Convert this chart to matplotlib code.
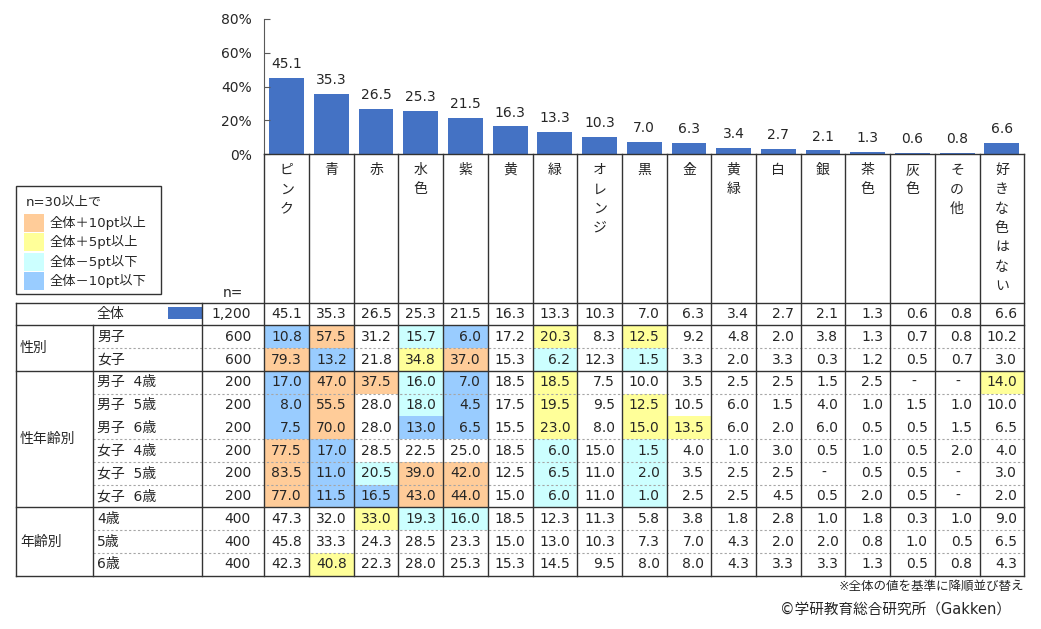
import numpy as np
import matplotlib.pyplot as plt
from matplotlib.patches import Rectangle

plt.rcParams['font.family'] = ['DejaVu Sans', 'Noto Sans CJK JP']

# data (values in %, None = "-")
colors = ['ピンク', '青', '赤', '水色', '紫', '黄', '緑', 'オレンジ', '黒', '金',
          '黄緑', '白', '銀', '茶色', '灰色', 'その他', '好きな色はない']
overall = [45.1, 35.3, 26.5, 25.3, 21.5, 16.3, 13.3, 10.3, 7.0, 6.3, 3.4, 2.7, 2.1, 1.3, 0.6, 0.8, 6.6]
boys = [10.8, 57.5, 31.2, 15.7, 6.0, 17.2, 20.3, 8.3, 12.5, 9.2, 4.8, 2.0, 3.8, 1.3, 0.7, 0.8, 10.2]
girls = [79.3, 13.2, 21.8, 34.8, 37.0, 15.3, 6.2, 12.3, 1.5, 3.3, 2.0, 3.3, 0.3, 1.2, 0.5, 0.7, 3.0]
boys4 = [17.0, 47.0, 37.5, 16.0, 7.0, 18.5, 18.5, 7.5, 10.0, 3.5, 2.5, 2.5, 1.5, 2.5, None, None, 14.0]
boys5 = [8.0, 55.5, 28.0, 18.0, 4.5, 17.5, 19.5, 9.5, 12.5, 10.5, 6.0, 1.5, 4.0, 1.0, 1.5, 1.0, 10.0]
boys6 = [7.5, 70.0, 28.0, 13.0, 6.5, 15.5, 23.0, 8.0, 15.0, 13.5, 6.0, 2.0, 6.0, 0.5, 0.5, 1.5, 6.5]
girls4 = [77.5, 17.0, 28.5, 22.5, 25.0, 18.5, 6.0, 15.0, 1.5, 4.0, 1.0, 3.0, 0.5, 1.0, 0.5, 2.0, 4.0]
girls5 = [83.5, 11.0, 20.5, 39.0, 42.0, 12.5, 6.5, 11.0, 2.0, 3.5, 2.5, 2.5, None, 0.5, 0.5, None, 3.0]
girls6 = [77.0, 11.5, 16.5, 43.0, 44.0, 15.0, 6.0, 11.0, 1.0, 2.5, 2.5, 4.5, 0.5, 2.0, 0.5, None, 2.0]
age4 = [47.3, 32.0, 33.0, 19.3, 16.0, 18.5, 12.3, 11.3, 5.8, 3.8, 1.8, 2.8, 1.0, 1.8, 0.3, 1.0, 9.0]
age5 = [45.8, 33.3, 24.3, 28.5, 23.3, 15.0, 13.0, 10.3, 7.3, 7.0, 4.3, 2.0, 2.0, 0.8, 1.0, 0.5, 6.5]
age6 = [42.3, 40.8, 22.3, 28.0, 25.3, 15.3, 14.5, 9.5, 8.0, 8.0, 4.3, 3.3, 3.3, 1.3, 0.5, 0.8, 4.3]

row_labels = ['全体', '男子', '女子', '男子  4歳', '男子  5歳', '男子  6歳',
              '女子  4歳', '女子  5歳', '女子  6歳', '4歳', '5歳', '6歳']
row_n = [1200, 600, 600, 200, 200, 200, 200, 200, 200, 400, 400, 400]
row_values = [overall, boys, girls, boys4, boys5, boys6, girls4, girls5, girls6, age4, age5, age6]
groups = [('性別', 1, 3), ('性年齢別', 3, 9), ('年齢別', 9, 12)]
dashed_rows = [2, 4, 6, 7, 8, 10, 11]  # rows with a dotted line above them

BAR = '#4472C4'
TXT = '#262626'
LINE = '#333333'
HI2, HI1, LO1, LO2 = '#FFCC99', '#FFFF99', '#CCFFFF', '#99CCFF'

fig = plt.figure(figsize=(10.41, 6.29), dpi=100)
W, H = 1041, 629

# pixel layout
X0, CW = 264.3, 44.7
Y_AX, Y_TOP = 154, 19
T0, RH = 302.7, 22.75
ncol = len(colors)
XR = X0 + ncol * CW

ax = fig.add_axes([X0 / W, (H - Y_AX) / H, ncol * CW / W, (Y_AX - Y_TOP) / H])
x = np.arange(ncol)
ax.bar(x, overall, width=0.78, color=BAR)
for xi, v in zip(x, overall):
    ax.annotate(f'{v:.1f}', (xi, v), xytext=(0, 5), textcoords='offset points',
                ha='center', va='bottom', fontsize=10, color=TXT)
ax.set_xlim(-0.5, ncol - 0.5)
ax.set_ylim(0, 80)
ax.set_yticks([0, 20, 40, 60, 80])
ax.set_yticklabels(['0%', '20%', '40%', '60%', '80%'])
ax.tick_params(axis='y', direction='in', length=4, pad=9, labelsize=10,
               colors='#595959', labelcolor=TXT)
ax.set_xticks([])
for s in ['top', 'right', 'bottom']:
    ax.spines[s].set_visible(False)
ax.spines['left'].set_color('#595959')

# overlay in pixel coordinates
ov = fig.add_axes([0, 0, 1, 1])
ov.set_xlim(0, W)
ov.set_ylim(H, 0)
ov.axis('off')
ov.patch.set_visible(False)

nrow = len(row_labels)
TB = T0 + nrow * RH

# cell highlight colours
for r in range(1, nrow):
    for c in range(ncol):
        v = row_values[r][c]
        if v is None or row_n[r] < 30:
            continue
        d = round(v - overall[c], 1)
        fc = None
        if d >= 10:
            fc = HI2
        elif d >= 5:
            fc = HI1
        elif d <= -10:
            fc = LO2
        elif d <= -5:
            fc = LO1
        if fc:
            ov.add_patch(Rectangle((X0 + c * CW, T0 + r * RH), CW, RH, color=fc, lw=0))

# header column labels (vertical)
for c, name in enumerate(colors):
    cx = X0 + (c + 0.5) * CW
    for k, ch in enumerate(name):
        ov.text(cx, 170 + k * 19.3, ch, ha='center', va='center', fontsize=10, color=TXT)
ov.text(233, 293, 'n=', ha='center', va='center', fontsize=10, color=TXT)

# table text
for r in range(nrow):
    cy = T0 + (r + 0.5) * RH
    ov.text(97, cy, row_labels[r], ha='left', va='center', fontsize=10, color=TXT)
    ov.text(251, cy, f'{row_n[r]:,}', ha='right', va='center', fontsize=10, color=TXT)
    for c in range(ncol):
        v = row_values[r][c]
        if v is None:
            ov.text(X0 + (c + 0.5) * CW + 1, cy, '-', ha='center', va='center',
                    fontsize=10, color=TXT)
        else:
            ov.text(X0 + (c + 1) * CW - 7, cy, f'{v:.1f}', ha='right', va='center',
                    fontsize=10, color=TXT)
ov.add_patch(Rectangle((168, T0 + 4.6), 33.5, 12, color=BAR, lw=0))

for name, a, b in groups:
    ov.text(20, T0 + (a + b) / 2 * RH, name, ha='left', va='center', fontsize=10, color=TXT)
for r in dashed_rows:
    ov.plot([93.3, XR], [T0 + r * RH] * 2, color='#A6A6A6', lw=0.8,
            linestyle=(0, (2, 2)))

# grid lines
for yb in [T0, T0 + RH] + [T0 + a * RH for _, a, _ in groups[1:]] + [TB]:
    ov.plot([15.7, XR], [yb, yb], color=LINE, lw=1)
ov.plot([X0, XR], [Y_AX, Y_AX], color=LINE, lw=1)
ov.plot([15.7, 15.7], [T0, TB], color=LINE, lw=1)
ov.plot([93.3, 93.3], [T0 + RH, TB], color=LINE, lw=1)
ov.plot([202.3, 202.3], [T0, TB], color=LINE, lw=1)
for c in range(ncol + 1):
    xc = X0 + c * CW
    ov.plot([xc, xc], [Y_AX, TB], color=LINE, lw=1)

# legend box
ov.add_patch(Rectangle((15.7, 186), 145, 108.3, fill=False, ec=LINE, lw=1))
ov.text(26, 202, 'n=30以上で', ha='left', va='center', fontsize=9.5, color=TXT)
leg = [(HI2, '全体＋10pt以上'), (HI1, '全体＋5pt以上'), (LO1, '全体－5pt以下'), (LO2, '全体－10pt以下')]
for i, (fc, lab) in enumerate(leg):
    yc = 222.7 + i * 19.4
    ov.add_patch(Rectangle((24, yc - 9), 20, 18, color=fc, lw=0))
    ov.text(50, yc, lab, ha='left', va='center', fontsize=9.5, color=TXT)

# notes
ov.text(1024, 586, '※全体の値を基準に降順並び替え', ha='right', va='center', fontsize=9, color=TXT)
ov.text(1011, 610, '©学研教育総合研究所（Gakken）', ha='right', va='center', fontsize=10.5, color=TXT)

fig.savefig('out.png', dpi=100)
